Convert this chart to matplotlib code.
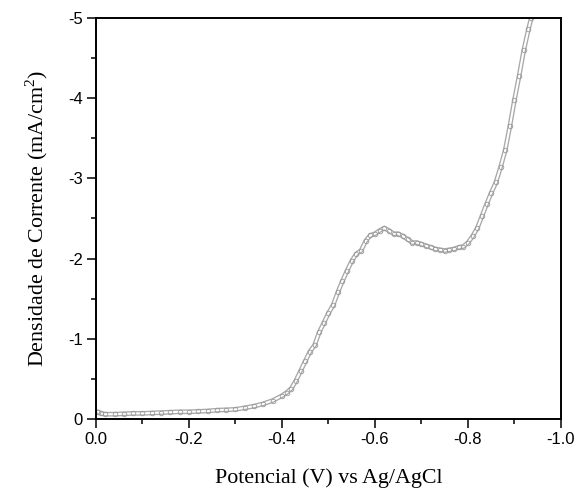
import numpy as np
import matplotlib
matplotlib.use('Agg')
import matplotlib.pyplot as plt
from matplotlib.ticker import MultipleLocator, FormatStrFormatter

# potential (V vs Ag/AgCl) and current density (mA/cm2)
potencial = [-0.004, -0.01, -0.02, -0.04, -0.06, -0.08, -0.10, -0.12, -0.14, -0.16,
             -0.18, -0.20, -0.22, -0.24, -0.26, -0.28, -0.30, -0.32, -0.34, -0.36,
             -0.38, -0.40, -0.41, -0.42, -0.43, -0.44, -0.45, -0.46, -0.47, -0.48,
             -0.49, -0.50, -0.51, -0.52, -0.53, -0.54, -0.55, -0.56, -0.57, -0.58,
             -0.59, -0.60, -0.61, -0.62, -0.63, -0.64, -0.65, -0.66, -0.67, -0.68,
             -0.69, -0.70, -0.71, -0.72, -0.73, -0.74, -0.75, -0.76, -0.77, -0.78,
             -0.79, -0.80, -0.81, -0.82, -0.83, -0.84, -0.85, -0.86, -0.87, -0.88,
             -0.89, -0.90, -0.91, -0.92, -0.93, -0.936]
corrente = [-0.09, -0.07, -0.06, -0.06, -0.065, -0.07, -0.07, -0.075, -0.08, -0.085,
            -0.09, -0.09, -0.095, -0.10, -0.11, -0.115, -0.12, -0.14, -0.16, -0.19,
            -0.23, -0.29, -0.33, -0.38, -0.48, -0.60, -0.72, -0.84, -0.92, -1.08,
            -1.20, -1.32, -1.42, -1.58, -1.72, -1.85, -1.97, -2.06, -2.10, -2.22,
            -2.29, -2.31, -2.35, -2.38, -2.35, -2.31, -2.31, -2.28, -2.24, -2.20,
            -2.20, -2.18, -2.16, -2.14, -2.12, -2.11, -2.10, -2.11, -2.12, -2.14,
            -2.15, -2.20, -2.28, -2.38, -2.53, -2.68, -2.82, -2.95, -3.14, -3.35,
            -3.65, -3.98, -4.28, -4.60, -4.86, -5.00]

plt.rcParams['axes.unicode_minus'] = False
plt.rcParams['mathtext.fontset'] = 'custom'
plt.rcParams['mathtext.rm'] = 'Liberation Serif'

fig = plt.figure(figsize=(5.79, 4.93), dpi=100)
ax = fig.add_axes([0.1658, 0.1501, 0.8031, 0.8134])

# chain of open circles
ax.plot(potencial, corrente, '-', color='#a8a8a8', lw=3.4, solid_capstyle='round')
ax.plot(potencial, corrente, '-', color='white', lw=1.5, solid_capstyle='round')
ax.plot(potencial, corrente, 'o', mfc='none', mec='#999999', ms=3.3, mew=0.6)

ax.set_xlim(0, -1.0)
ax.set_ylim(0, -5)
ax.xaxis.set_major_locator(MultipleLocator(0.2))
ax.xaxis.set_minor_locator(MultipleLocator(0.1))
ax.yaxis.set_major_locator(MultipleLocator(1))
ax.yaxis.set_minor_locator(MultipleLocator(0.5))
ax.xaxis.set_major_formatter(FormatStrFormatter('%.1f'))
ax.yaxis.set_major_formatter(FormatStrFormatter('%d'))

ax.tick_params(which='both', direction='out', top=False, right=False, width=1.1)
ax.tick_params(which='major', length=6.5, labelsize=12, pad=3)
ax.tick_params(which='minor', length=3.5)
for lab in ax.get_xticklabels() + ax.get_yticklabels():
    lab.set_fontfamily('Liberation Sans')
for s in ax.spines.values():
    s.set_linewidth(1.4)

ax.set_xlabel('Potencial (V) vs Ag/AgCl', family='Liberation Serif', fontsize=15.8, labelpad=15)
ax.set_ylabel(r'Densidade de Corrente (mA/cm$^2$)', family='Liberation Serif', fontsize=15.8, labelpad=13)

fig.savefig('out.png', dpi=100)
